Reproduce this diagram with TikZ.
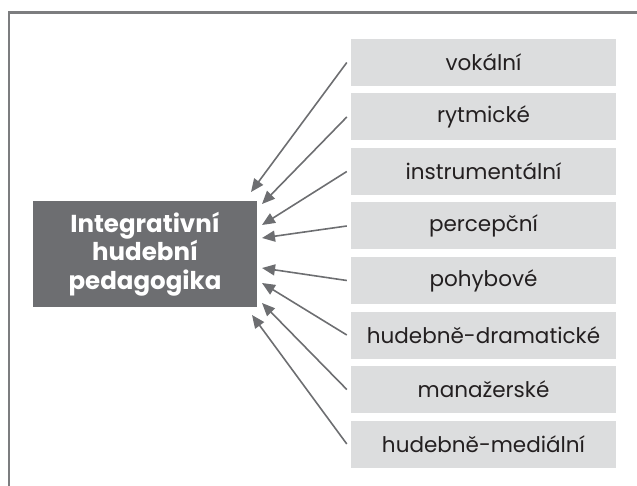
\documentclass[tikz,border=0pt]{standalone}
\usepackage{fontspec}
\setmainfont{Poppins}
\usetikzlibrary{arrows.meta}
\definecolor{tmava}{HTML}{6D6E71}
\definecolor{svetla}{HTML}{DCDDDE}
\definecolor{pismo}{HTML}{231F20}
\tikzset{
    oblast/.style={fill=svetla,text=pismo,minimum width=265pt,minimum height=47pt,inner sep=0pt,font=\fontsize{21.5}{24}\selectfont},
    centrum/.style={fill=tmava,text=white,minimum width=224pt,minimum height=106pt,align=center,inner sep=0pt,font=\fontsize{24.5}{28.5}\selectfont\bfseries},
    sipka/.style={draw=tmava,line width=1.6pt,-{Triangle[length=13pt,width=11pt]}}
}

\begin{document}
\begin{tikzpicture}[x=1pt,y=-1pt]
        \useasboundingbox (0,0) rectangle (637,486);
        \draw[line width=2.5pt,color=tmava!90](9,487)--(9,12.5)--(638,12.5);

        \node[centrum](ihp) at (145,254){Integrativní\\hudební\\pedagogika};

        \node[oblast](b1) at (483.5,62.5){vokální};
        \node[oblast](b2) at (483.5,117){rytmické};
        \node[oblast](b3) at (483.5,171.5){instrumentální};
        \node[oblast](b4) at (483.5,226){percepční};
        \node[oblast](b5) at (483.5,280.5){pohybové};
        \node[oblast](b6) at (483.5,335){hudebně-dramatické};
        \node[oblast](b7) at (483.5,389.5){manažerské};
        \node[oblast](b8) at (483.5,444){hudebně-mediální};

        \coordinate(h1) at (251,192);
        \coordinate(h2) at (262,204);
        \coordinate(h3) at (262,225);
        \coordinate(h4) at (262,238);
        \coordinate(h5) at (262,268);
        \coordinate(h6) at (262,283);
        \coordinate(h7) at (262,303);
        \coordinate(h8) at (252,315);

        \draw[sipka]([xshift=-4pt]b1.west)--(h1);
        \draw[sipka]([xshift=-4pt]b2.west)--(h2);
        \draw[sipka]([xshift=-4pt]b3.west)--(h3);
        \draw[sipka]([xshift=-4pt]b4.west)--(h4);
        \draw[sipka]([xshift=-4pt]b5.west)--(h5);
        \draw[sipka]([xshift=-4pt]b6.west)--(h6);
        \draw[sipka]([xshift=-4pt]b7.west)--(h7);
        \draw[sipka]([xshift=-4pt]b8.west)--(h8);
    \end{tikzpicture}
\end{document}
